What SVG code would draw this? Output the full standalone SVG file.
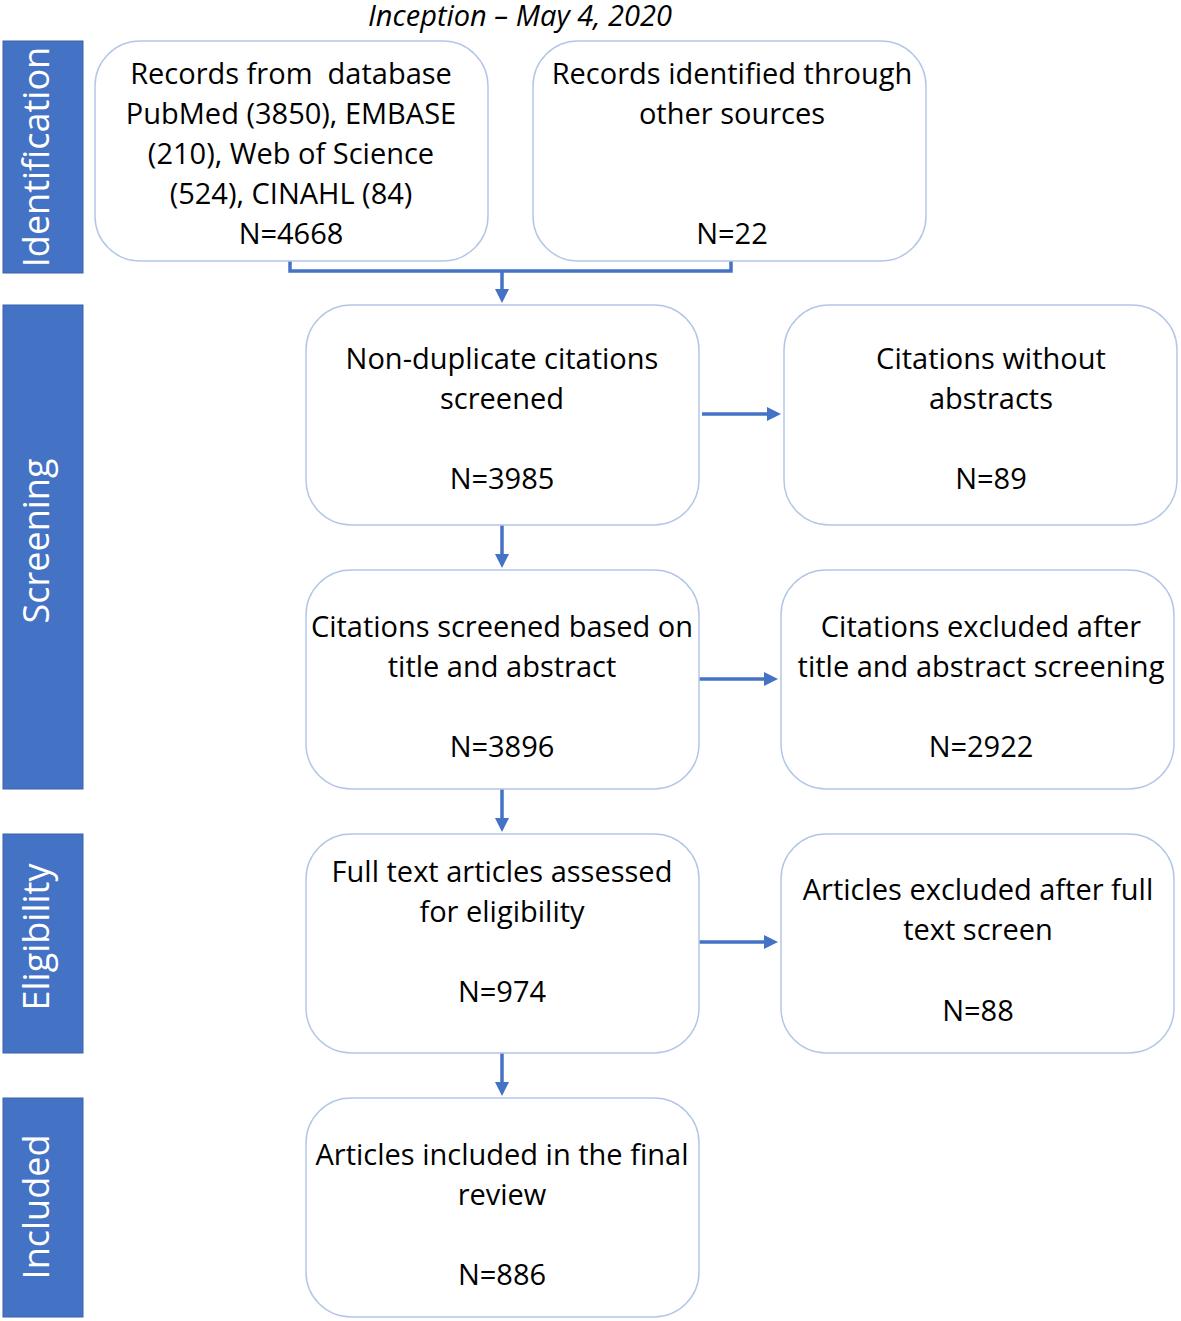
<svg xmlns="http://www.w3.org/2000/svg" width="1181" height="1321" viewBox="0 0 1181 1321">
<style>
.box{fill:#fff;stroke:#B4C7E7;stroke-width:1.5}
.bar{fill:#4472C4;stroke:#3A62AA;stroke-width:1}
.t{font-family:"Open Sans","Liberation Sans",sans-serif;font-size:29px;fill:#000;text-anchor:middle}
.side{font-family:"Open Sans","Liberation Sans",sans-serif;font-size:36px;fill:#fff;text-anchor:middle}
.conn{fill:none;stroke:#4472C4;stroke-width:3.5}
</style>
<defs>
<marker id="ah" markerWidth="4" markerHeight="4" refX="2" refY="2" orient="auto" markerUnits="strokeWidth" viewBox="0 0 4 4">
<path d="M0,0 L4,2 L0,4 Z" fill="#4472C4"/>
</marker>
</defs>
<rect width="1181" height="1321" fill="#fff"/>
<text x="520" y="26" class="t" font-style="italic" font-size="30">Inception – May 4, 2020</text>

<g id="lane-identification"><rect class="bar" x="3" y="41" width="80" height="232"/><text class="side" transform="translate(49,157) rotate(-90)">Identification</text></g>
<g id="lane-screening"><rect class="bar" x="3" y="305" width="80" height="484"/><text class="side" transform="translate(49,541) rotate(-90)">Screening</text></g>
<g id="lane-eligibility"><rect class="bar" x="3" y="834" width="80" height="219"/><text class="side" transform="translate(49,937) rotate(-90)">Eligibility</text></g>
<g id="lane-included"><rect class="bar" x="3" y="1098" width="80" height="219"/><text class="side" transform="translate(49,1207) rotate(-90)">Included</text></g>

<g id="connectors">
<path class="conn" d="M290,261 V271 H731 V261"/>
<path class="conn" d="M502,271 V296" marker-end="url(#ah)"/>
<path class="conn" d="M502,525 V561" marker-end="url(#ah)"/>
<path class="conn" d="M502,789 V825" marker-end="url(#ah)"/>
<path class="conn" d="M502,1053 V1089" marker-end="url(#ah)"/>
<path class="conn" d="M702,414 H774" marker-end="url(#ah)"/>
<path class="conn" d="M699,679 H771" marker-end="url(#ah)"/>
<path class="conn" d="M699,942 H771" marker-end="url(#ah)"/>
</g>

<g id="n1"><rect class="box" x="95" y="41" width="393" height="220" rx="45"/>
<text class="t" x="291" y="84">Records from&#160; database</text>
<text class="t" x="291" y="124">PubMed (3850), EMBASE</text>
<text class="t" x="291" y="164">(210), Web of Science</text>
<text class="t" x="291" y="204">(524), CINAHL (84)</text>
<text class="t" x="291" y="244">N=4668</text></g>
<g id="n2"><rect class="box" x="533" y="41" width="393" height="220" rx="45"/>
<text class="t" x="732" y="84">Records identified through</text>
<text class="t" x="732" y="124">other sources</text>
<text class="t" x="732" y="244">N=22</text></g>
<g id="n3"><rect class="box" x="306" y="305" width="393" height="220" rx="45"/>
<text class="t" x="502" y="369">Non-duplicate citations</text>
<text class="t" x="502" y="409">screened</text>
<text class="t" x="502" y="489">N=3985</text></g>
<g id="n4"><rect class="box" x="784" y="305" width="393" height="220" rx="45"/>
<text class="t" x="991" y="369">Citations without</text>
<text class="t" x="991" y="409">abstracts</text>
<text class="t" x="991" y="489">N=89</text></g>
<g id="n5"><rect class="box" x="306" y="570" width="393" height="219" rx="45"/>
<text class="t" x="502" y="637">Citations screened based on</text>
<text class="t" x="502" y="677">title and abstract</text>
<text class="t" x="502" y="757">N=3896</text></g>
<g id="n6"><rect class="box" x="781" y="570" width="393" height="219" rx="45"/>
<text class="t" x="981" y="637">Citations excluded after</text>
<text class="t" x="981" y="677">title and abstract screening</text>
<text class="t" x="981" y="757">N=2922</text></g>
<g id="n7"><rect class="box" x="306" y="834" width="393" height="219" rx="45"/>
<text class="t" x="502" y="882">Full text articles assessed</text>
<text class="t" x="502" y="922">for eligibility</text>
<text class="t" x="502" y="1002">N=974</text></g>
<g id="n8"><rect class="box" x="781" y="834" width="393" height="219" rx="45"/>
<text class="t" x="978" y="900">Articles excluded after full</text>
<text class="t" x="978" y="940">text screen</text>
<text class="t" x="978" y="1021">N=88</text></g>
<g id="n9"><rect class="box" x="306" y="1098" width="393" height="219" rx="45"/>
<text class="t" x="502" y="1165">Articles included in the final</text>
<text class="t" x="502" y="1205">review</text>
<text class="t" x="502" y="1285">N=886</text></g>
</svg>
